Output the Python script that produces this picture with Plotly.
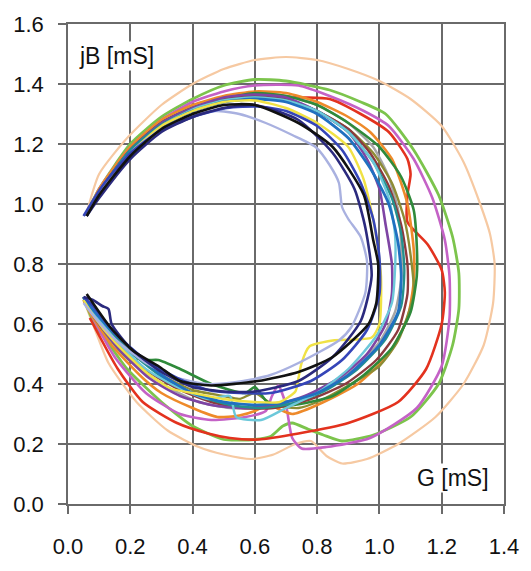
import plotly.graph_objects as go

# Admittance loci: (G [mS], jB [mS]) points, per curve
peach = [(0.06,0.97),(0.1,1.1),(0.19,1.22),(0.3,1.33),(0.4,1.40),(0.5,1.45),(0.6,1.48),(0.7,1.49),
         (0.8,1.48),(0.9,1.45),(1.0,1.41),(1.1,1.35),(1.2,1.26),(1.27,1.14),(1.32,1.01),(1.355,0.90),
         (1.37,0.80),(1.365,0.67),(1.335,0.53),(1.27,0.40),(1.18,0.29),(1.06,0.20),(0.96,0.15),
         (0.88,0.135),(0.83,0.16),(0.78,0.21),(0.73,0.20),(0.66,0.165),(0.59,0.15),(0.5,0.165),
         (0.42,0.19),(0.32,0.245),(0.22,0.34),(0.13,0.47),(0.08,0.60),(0.05,0.68)]
lgreen = [(0.06,0.97),(0.1,1.05),(0.2,1.2),(0.3,1.29),(0.4,1.35),(0.5,1.395),(0.6,1.415),(0.7,1.41),
          (0.84,1.38),(0.94,1.34),(1.02,1.30),(1.11,1.18),(1.19,1.03),(1.235,0.89),(1.255,0.77),
          (1.255,0.65),(1.235,0.53),(1.19,0.40),(1.1,0.29),(0.98,0.23),(0.88,0.21),(0.82,0.23),
          (0.77,0.25),(0.72,0.27),(0.69,0.26),(0.65,0.225),(0.6,0.215),(0.5,0.215),(0.4,0.26),
          (0.3,0.34),(0.19,0.45),(0.12,0.55),(0.09,0.59),(0.06,0.66),(0.05,0.69)]
magenta = [(0.06,0.96),(0.1,1.05),(0.2,1.19),(0.3,1.28),(0.4,1.34),(0.5,1.375),(0.6,1.395),
           (0.74,1.395),(0.84,1.36),(0.95,1.31),(1.03,1.26),(1.11,1.15),(1.17,1.02),(1.21,0.88),
           (1.225,0.76),(1.225,0.62),(1.2,0.46),(1.12,0.32),(0.97,0.22),(0.83,0.19),(0.75,0.185),
           (0.72,0.22),(0.70,0.33),(0.675,0.395),(0.655,0.36),(0.635,0.31),(0.57,0.29),
           (0.46,0.28),(0.36,0.30),(0.25,0.37),(0.15,0.49),(0.08,0.62),(0.05,0.69)]
red = [(0.06,0.96),(0.1,1.04),(0.2,1.18),(0.3,1.27),(0.4,1.32),(0.53,1.355),(0.65,1.36),(0.75,1.355),
       (0.84,1.35),(0.94,1.30),(1.03,1.24),(1.09,1.15),(1.10,1.10),(1.09,1.03),(1.09,0.94),
       (1.155,0.865),(1.2,0.78),(1.21,0.705),(1.2,0.6),(1.15,0.45),(1.06,0.34),(0.9,0.27),
       (0.74,0.235),(0.61,0.215),(0.52,0.22),(0.45,0.235),(0.35,0.27),(0.24,0.34),(0.16,0.45),
       (0.07,0.62)]
orange = [(0.06,0.96),(0.1,1.05),(0.2,1.19),(0.3,1.28),(0.4,1.33),(0.5,1.36),(0.6,1.375),(0.7,1.37),
          (0.8,1.34),(0.9,1.29),(0.97,1.24),(1.04,1.15),(1.09,1.0),(1.11,0.85),(1.11,0.74),
          (1.09,0.62),(1.03,0.5),(0.93,0.40),(0.8,0.33),(0.72,0.30),(0.64,0.33),(0.6,0.31),
          (0.55,0.295),(0.48,0.29),(0.4,0.32),(0.3,0.37),(0.24,0.42),(0.14,0.53),(0.07,0.64),
          (0.05,0.68)]
dgreen = [(0.06,0.96),(0.1,1.04),(0.2,1.18),(0.3,1.27),(0.4,1.32),(0.5,1.35),(0.6,1.37),(0.7,1.36),
          (0.8,1.33),(0.9,1.27),(1.0,1.19),(1.07,1.09),(1.11,0.98),(1.12,0.86),(1.12,0.76),
          (1.1,0.64),(1.04,0.52),(0.95,0.43),(0.85,0.36),(0.72,0.33),(0.64,0.34),(0.6,0.39),
          (0.57,0.37),(0.46,0.40),(0.36,0.45),(0.29,0.48),(0.25,0.48),(0.2,0.5),(0.12,0.58),
          (0.07,0.65),(0.05,0.69)]
olive = [(0.06,0.96),(0.1,1.04),(0.2,1.18),(0.3,1.27),(0.4,1.32),(0.5,1.35),(0.6,1.365),(0.7,1.35),
         (0.8,1.31),(0.9,1.25),(0.98,1.17),(1.04,1.07),(1.08,0.95),(1.1,0.83),(1.11,0.70),
         (1.06,0.545),(1.0,0.46),(0.9,0.395),(0.8,0.34),(0.74,0.32),(0.66,0.33),(0.6,0.37),
         (0.55,0.35),(0.5,0.36),(0.4,0.38),(0.3,0.43),(0.23,0.49),(0.21,0.47),(0.15,0.53),
         (0.08,0.63),(0.05,0.69)]
blue = [(0.06,0.96),(0.1,1.04),(0.2,1.17),(0.3,1.26),(0.4,1.31),(0.5,1.34),(0.6,1.35),(0.7,1.34),
        (0.8,1.30),(0.9,1.22),(0.97,1.12),(1.03,1.0),(1.06,0.87),(1.07,0.76),(1.06,0.64),
        (1.0,0.53),(0.9,0.43),(0.8,0.37),(0.7,0.34),(0.6,0.33),(0.5,0.34),(0.4,0.37),(0.3,0.43),
        (0.2,0.52),(0.12,0.6),(0.07,0.66),(0.05,0.69)]
teal = [(0.06,0.96),(0.1,1.04),(0.2,1.18),(0.3,1.265),(0.4,1.315),(0.5,1.345),(0.6,1.355),
        (0.7,1.345),(0.8,1.31),(0.9,1.24),(0.98,1.14),(1.04,1.02),(1.07,0.9),(1.08,0.78),
        (1.07,0.66),(1.02,0.55),(0.93,0.45),(0.83,0.38),(0.72,0.335),(0.62,0.32),(0.52,0.33),
        (0.42,0.36),(0.32,0.41),(0.22,0.49),(0.13,0.58),(0.07,0.65),(0.05,0.69)]
navy = [(0.06,0.96),(0.1,1.02),(0.2,1.15),(0.3,1.24),(0.4,1.29),(0.5,1.32),(0.6,1.33),(0.74,1.28),
        (0.85,1.17),(0.92,1.05),(0.955,0.92),(0.975,0.76),(0.94,0.61),(0.85,0.49),(0.74,0.41),
        (0.6,0.375),(0.5,0.375),(0.4,0.39),(0.3,0.44),(0.2,0.52),(0.14,0.6),(0.13,0.65),
        (0.11,0.66),(0.08,0.68),(0.05,0.69)]
royal = [(0.05,0.96),(0.11,1.06),(0.2,1.17),(0.29,1.24),(0.4,1.29),(0.51,1.32),(0.61,1.325),
         (0.7,1.31),(0.8,1.26),(0.88,1.18),(0.94,1.07),(0.98,0.95),(1.0,0.82),(1.0,0.7),
         (0.96,0.58),(0.88,0.48),(0.78,0.41),(0.65,0.37),(0.55,0.37),(0.45,0.38),(0.35,0.42),
         (0.25,0.48),(0.15,0.57),(0.08,0.66),(0.05,0.69)]
purple = [(0.06,0.96),(0.1,1.04),(0.2,1.18),(0.3,1.27),(0.4,1.32),(0.5,1.355),(0.6,1.365),
          (0.7,1.355),(0.8,1.31),(0.9,1.24),(0.96,1.15),(1.0,1.05),(1.02,0.93),(1.04,0.8),
          (1.04,0.7),(1.02,0.6),(0.96,0.5),(0.87,0.42),(0.76,0.36),(0.66,0.33),(0.56,0.32),
          (0.46,0.33),(0.36,0.36),(0.26,0.42),(0.16,0.52),(0.08,0.63),(0.05,0.69)]
maroon = [(0.06,0.96),(0.1,1.04),(0.2,1.18),(0.3,1.27),(0.4,1.32),(0.5,1.35),(0.6,1.36),(0.7,1.35),
          (0.8,1.31),(0.9,1.25),(0.97,1.17),(1.03,1.06),(1.07,0.93),(1.09,0.8),(1.09,0.7),
          (1.06,0.58),(0.99,0.48),(0.89,0.4),(0.78,0.35),(0.66,0.32),(0.56,0.32),(0.46,0.34),
          (0.36,0.38),(0.26,0.44),(0.17,0.52),(0.09,0.62),(0.05,0.68)]
gray = [(0.06,0.96),(0.1,1.04),(0.2,1.18),(0.3,1.27),(0.4,1.325),(0.5,1.355),(0.6,1.37),(0.7,1.36),
        (0.8,1.33),(0.9,1.27),(0.98,1.19),(1.03,1.09),(1.06,0.98),(1.07,0.86),(1.07,0.75),
        (1.05,0.64),(1.0,0.54),(0.92,0.45),(0.82,0.38),(0.72,0.34),(0.62,0.32),(0.52,0.32),
        (0.42,0.34),(0.32,0.39),(0.22,0.46),(0.13,0.56),(0.07,0.65),(0.05,0.69)]
cyan = [(0.06,0.96),(0.1,1.04),(0.2,1.17),(0.3,1.26),(0.4,1.315),(0.5,1.345),(0.6,1.355),
        (0.7,1.345),(0.8,1.31),(0.9,1.24),(0.98,1.14),(1.03,1.02),(1.05,0.9),(1.05,0.78),
        (1.04,0.67),(0.99,0.56),(0.9,0.45),(0.8,0.37),(0.7,0.32),(0.62,0.28),(0.54,0.29),
        (0.52,0.36),(0.45,0.35),(0.35,0.39),(0.25,0.45),(0.15,0.55),(0.08,0.64),(0.05,0.69)]
yellow = [(0.06,0.96),(0.1,1.04),(0.2,1.17),(0.3,1.26),(0.4,1.31),(0.5,1.34),(0.6,1.345),
          (0.7,1.32),(0.8,1.27),(0.9,1.19),(0.95,1.08),(0.985,0.92),(1.005,0.76),(1.0,0.6),
          (0.975,0.555),(0.85,0.545),(0.775,0.525),(0.75,0.47),(0.74,0.42),(0.73,0.375),
          (0.68,0.34),(0.6,0.34),(0.5,0.35),(0.4,0.37),(0.33,0.385),(0.25,0.44),(0.15,0.54),
          (0.08,0.63),(0.05,0.68)]
lavender = [(0.06,0.96),(0.1,1.04),(0.2,1.17),(0.3,1.25),(0.4,1.295),(0.475,1.31),(0.55,1.30),
            (0.635,1.27),(0.72,1.23),(0.795,1.19),(0.84,1.13),(0.87,1.07),(0.88,0.99),(0.9,0.95),
            (0.94,0.89),(0.96,0.81),(0.955,0.705),(0.91,0.59),(0.87,0.545),(0.74,0.47),
            (0.65,0.43),(0.59,0.415),(0.53,0.405),(0.45,0.40),(0.35,0.42),(0.25,0.47),
            (0.15,0.55),(0.08,0.63),(0.05,0.67)]
black = [(0.06,0.96),(0.1,1.03),(0.2,1.16),(0.3,1.25),(0.4,1.30),(0.5,1.33),(0.6,1.33),(0.74,1.27),
         (0.85,1.19),(0.95,1.03),(0.98,0.88),(0.996,0.80),(0.99,0.67),(0.965,0.60),(0.85,0.49),
         (0.74,0.44),(0.61,0.41),(0.46,0.395),(0.36,0.41),(0.29,0.46),(0.21,0.51),(0.135,0.59),
         (0.06,0.70)]

curves = [
    (peach, "#f6c9a2", 2.2), (lgreen, "#7cc44c", 2.8), (magenta, "#c462c6", 2.6),
    (red, "#e3321e", 2.6), (gray, "#a6a6a6", 2.4), (orange, "#ee8a2a", 2.6),
    (olive, "#8e8c34", 2.4), (dgreen, "#2f8a3a", 2.6), (maroon, "#8c3a3e", 2.4),
    (purple, "#7e44a4", 2.6), (teal, "#23908e", 2.4), (cyan, "#6cc8da", 2.4),
    (blue, "#2070c0", 2.8), (yellow, "#f0e245", 2.4), (lavender, "#a9b1e0", 2.4),
    (royal, "#3545b8", 2.6), (navy, "#2b2a7e", 2.6), (black, "#111111", 2.6),
]

x_ticks = [0.0, 0.2, 0.4, 0.6, 0.8, 1.0, 1.2, 1.4]
y_ticks = [0.0, 0.2, 0.4, 0.6, 0.8, 1.0, 1.2, 1.4, 1.6]

fig = go.Figure()
for pts, col, w in curves:
    fig.add_trace(go.Scatter(
        x=[p[0] for p in pts], y=[p[1] for p in pts], mode="lines",
        line=dict(color=col, width=w, shape="spline", smoothing=0.6),
        showlegend=False, hoverinfo="skip"))

font = "Liberation Sans, Arial, sans-serif"
grid = "#6a6a6a"
fig.update_layout(
    width=531, height=571,
    margin=dict(l=68, r=24, t=21, b=51),
    paper_bgcolor="white", plot_bgcolor="white",
    font=dict(family=font, size=22, color="#111111"),
    xaxis=dict(range=[0, 1.4], tickvals=x_ticks, ticktext=[f"{v:.1f}" for v in x_ticks],
               showgrid=True, gridcolor=grid, gridwidth=1.5, zeroline=False,
               showline=True, linecolor=grid, linewidth=1.5, mirror=True,
               ticks="outside", ticklen=8, tickcolor=grid, tickwidth=1.5,
               ticklabelstandoff=14, tickfont=dict(size=22, family=font)),
    yaxis=dict(range=[0, 1.6], tickvals=y_ticks, ticktext=[f"{v:.1f}" for v in y_ticks],
               showgrid=True, gridcolor=grid, gridwidth=1.5, zeroline=False,
               showline=True, linecolor=grid, linewidth=1.5, mirror=True,
               ticks="outside", ticklen=8, tickcolor=grid, tickwidth=1.5,
               ticklabelstandoff=10, tickfont=dict(size=22, family=font)),
    annotations=[
        dict(text="jB [mS]", x=0.03, y=1.494, xref="x", yref="y", xanchor="left",
             yanchor="middle", showarrow=False, font=dict(size=23, family=font, color="#111111"),
             bgcolor="white"),
        dict(text="G [mS]", x=1.114, y=0.087, xref="x", yref="y", xanchor="left",
             yanchor="middle", showarrow=False, font=dict(size=23, family=font, color="#111111"),
             bgcolor="white"),
    ],
)

fig.write_html("out.html", config={"displayModeBar": False},
               post_script="document.body.style.margin='0';document.body.style.overflow='hidden';")
